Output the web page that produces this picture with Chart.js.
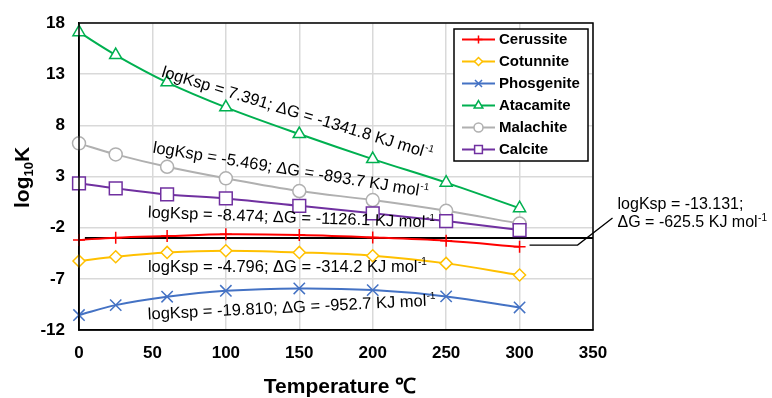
<!DOCTYPE html>
<html>
<head>
<meta charset="utf-8">
<script src="https://cdn.jsdelivr.net/npm/chart.js@4.4.0/dist/chart.umd.min.js"></script>
<style>
  html, body { margin: 0; padding: 0; background: #fff; }
  #wrap { width: 772px; height: 398px; }
</style>
</head>
<body>
<div id="wrap"><canvas id="chart"></canvas></div>
<script>
// values
const temps = [0, 25, 60, 100, 150, 200, 250, 300];
const cerussite = [-3.2, -2.98, -2.82, -2.65, -2.72, -2.95, -3.28, -3.87];
const cotunnite = [-5.26, -4.84, -4.42, -4.25, -4.42, -4.74, -5.49, -6.63];
const phosgenite = [-10.54, -9.57, -8.75, -8.17, -7.94, -8.1, -8.72, -9.8];
const atacamite = [17.1, 14.87, 12.2, 9.76, 7.15, 4.7, 2.4, -0.1];
const malachite = [6.24, 5.16, 3.95, 2.82, 1.58, 0.7, -0.35, -1.6];
const calcite = [2.33, 1.84, 1.25, 0.86, 0.14, -0.6, -1.36, -2.23];
const seriesNames = ['Cerussite', 'Cotunnite', 'Phosgenite', 'Atacamite', 'Malachite', 'Calcite'];

const xMin = 0, xMax = 350, xStep = 50;
const yMin = -12, yMax = 18, yStep = 5;

const fitTexts = [
  'logKsp = 7.391; ΔG = -1341.8 KJ mol',
  'logKsp = -5.469; ΔG = -893.7 KJ mol',
  'logKsp = -8.474; ΔG = -1126.1 KJ mol',
  'logKsp = -4.796; ΔG = -314.2 KJ mol',
  'logKsp = -19.810; ΔG = -952.7 KJ mol'
];
const cerussiteText = ['logKsp = -13.131;', 'ΔG = -625.5 KJ mol'];

const FONT = '"Liberation Sans", Arial, sans-serif';
const colors = ['#ff0000', '#ffc000', '#4472c4', '#00b050', '#b0b0b0', '#7030a0'];
const styles = ['cross', 'rectRot', 'crossRot', 'triangle', 'circle', 'rect'];
const radii = [6, 6, 8, 7, 6.5, 9];
const legendRadii = [4, 4, 5, 5, 4.5, 5.5];
const allSeries = [cerussite, cotunnite, phosgenite, atacamite, malachite, calcite];

// where the fit labels sit, in data units, with their slope
const fitPos = [
  { x: 56.5, y: 13.2, a: 17 },
  { x: 50.3, y: 5.78, a: 9.2 },
  { x: 46.9, y: -0.57, a: 2 },
  { x: 46.9, y: -5.84, a: 0 },
  { x: 46.9, y: -10.53, a: -2.8 }
];

const datasets = allSeries.map((vals, i) => ({
  label: seriesNames[i],
  data: temps.map((t, j) => ({ x: t, y: vals[j] })),
  borderColor: colors[i],
  backgroundColor: '#ffffff',
  borderWidth: 2,
  pointStyle: styles[i],
  pointRadius: radii[i],
  pointBorderColor: colors[i],
  pointBackgroundColor: '#ffffff',
  pointBorderWidth: 1.5,
  tension: 0.35,
  clip: false,
  order: 6 - i
}));

// stray black line under the cerussite curve
datasets.push({
  label: 'guide',
  data: [{ x: 4, y: -3.0 }, { x: 350, y: -3.0 }],
  borderColor: '#000',
  borderWidth: 2,
  pointRadius: 0,
  order: 20
});

function supText(ctx, text, sup, x, y, angle, size) {
  ctx.save();
  ctx.translate(x, y);
  ctx.rotate(angle * Math.PI / 180);
  ctx.fillStyle = '#000';
  ctx.textBaseline = 'middle';
  ctx.textAlign = 'left';
  ctx.font = size + 'px ' + FONT;
  ctx.fillText(text, 0, 0);
  const w = ctx.measureText(text).width;
  ctx.font = Math.round(size * 0.62) + 'px ' + FONT;
  ctx.fillText(sup, w + 0.5, -size * 0.3);
  ctx.restore();
}

const extras = {
  id: 'extras',
  afterDraw(chart) {
    const ctx = chart.ctx;
    const a = chart.chartArea;
    const xs = chart.scales.x, ys = chart.scales.y;

    // frame
    ctx.save();
    ctx.strokeStyle = '#000';
    ctx.lineWidth = 1.5;
    ctx.strokeRect(a.left, a.top, a.right - a.left, a.bottom - a.top);

    // leader line to the cerussite label
    ctx.lineWidth = 1.3;
    ctx.beginPath();
    ctx.moveTo(xs.getPixelForValue(306.8), ys.getPixelForValue(-3.7));
    ctx.lineTo(xs.getPixelForValue(339.5), ys.getPixelForValue(-3.7));
    ctx.lineTo(xs.getPixelForValue(363.3), ys.getPixelForValue(-1.06));
    ctx.stroke();
    ctx.restore();

    // fit labels
    fitTexts.forEach((t, i) => {
      const p = fitPos[i];
      supText(ctx, t, '-1', xs.getPixelForValue(p.x), ys.getPixelForValue(p.y), p.a, 16.5);
    });
    ctx.save();
    ctx.fillStyle = '#000';
    ctx.font = '16px ' + FONT;
    ctx.textBaseline = 'middle';
    ctx.fillText(cerussiteText[0], xs.getPixelForValue(366.7), ys.getPixelForValue(0.21));
    ctx.restore();
    supText(ctx, cerussiteText[1], '-1', xs.getPixelForValue(366.7), ys.getPixelForValue(-1.55), 0, 16);

    // legend
    const lx = a.right - 139, ly = a.top + 6, lw = 134, lh = 132;
    ctx.save();
    ctx.fillStyle = '#fff';
    ctx.fillRect(lx, ly, lw, lh);
    ctx.strokeStyle = '#000';
    ctx.lineWidth = 1.5;
    ctx.strokeRect(lx, ly, lw, lh);
    seriesNames.forEach((name, i) => {
      const cy = ly + 10.5 + i * 22;
      ctx.strokeStyle = colors[i];
      ctx.lineWidth = 2;
      ctx.beginPath();
      ctx.moveTo(lx + 8, cy);
      ctx.lineTo(lx + 41, cy);
      ctx.stroke();
      ctx.fillStyle = '#fff';
      ctx.lineWidth = 1.5;
      Chart.helpers.drawPoint(ctx, { pointStyle: styles[i], radius: legendRadii[i], borderWidth: 1.5 }, lx + 24.5, cy);
      ctx.fillStyle = '#000';
      ctx.font = 'bold 15px ' + FONT;
      ctx.textBaseline = 'middle';
      ctx.textAlign = 'left';
      ctx.fillText(name, lx + 45, cy + 0.5);
    });
    ctx.restore();

    // axis titles
    ctx.save();
    ctx.fillStyle = '#000';
    ctx.font = 'bold 21px ' + FONT;
    ctx.textAlign = 'center';
    ctx.textBaseline = 'middle';
    ctx.fillText('Temperature ℃', (a.left + a.right) / 2 + 4, 387);

    ctx.translate(29, 208);
    ctx.rotate(-Math.PI / 2);
    ctx.textAlign = 'left';
    ctx.textBaseline = 'alphabetic';
    ctx.font = 'bold 21px ' + FONT;
    ctx.fillText('log', 0, 0);
    let w = ctx.measureText('log').width;
    ctx.font = 'bold 13px ' + FONT;
    ctx.fillText('10', w, 4);
    w += ctx.measureText('10').width;
    ctx.font = 'bold 21px ' + FONT;
    ctx.fillText('K', w, 0);
    ctx.restore();
  }
};

new Chart(document.getElementById('chart'), {
  type: 'line',
  data: { datasets },
  options: {
    responsive: true,
    maintainAspectRatio: false,
    animation: false,
    layout: { padding: { left: 0, right: 179, top: 23, bottom: 0 } },
    plugins: { legend: { display: false }, tooltip: { enabled: false } },
    scales: {
      x: {
        type: 'linear',
        min: xMin, max: xMax,
        afterFit: s => { s.height = 68; },
        grid: { color: '#d9d9d9', lineWidth: 1.5, drawTicks: false },
        border: { color: '#000', width: 1.5 },
        ticks: { stepSize: xStep, color: '#000', padding: 13, font: { family: FONT, size: 17, weight: 'bold' } }
      },
      y: {
        min: yMin, max: yMax,
        afterFit: s => { s.width = 79; },
        grid: { color: '#d9d9d9', lineWidth: 1.5, drawTicks: false },
        border: { color: '#000', width: 1.5 },
        ticks: { stepSize: yStep, color: '#000', padding: 14, font: { family: FONT, size: 17, weight: 'bold', lineHeight: 1 } }
      }
    }
  },
  plugins: [extras]
});
</script>
</body>
</html>
